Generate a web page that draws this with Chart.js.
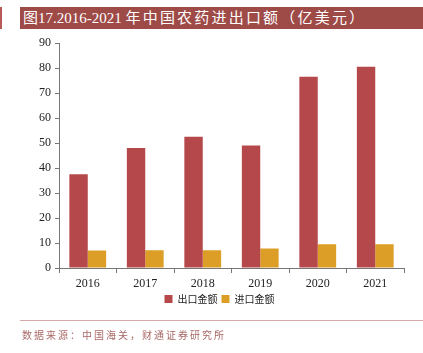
<!DOCTYPE html>
<html><head><meta charset="utf-8">
<script src="https://cdn.jsdelivr.net/npm/chart.js@4/dist/chart.umd.min.js"></script>
<style>
html,body{margin:0;padding:0;background:#fff;width:423px;height:353px;overflow:hidden;}
#wrap{position:relative;width:423px;height:353px;}
#title{position:absolute;left:20px;top:7px;width:403px;height:22px;background:#9e4a47;color:#fff;font-family:"Liberation Serif","Noto Sans CJK SC",serif;font-size:15px;line-height:22px;padding-left:3px;box-sizing:border-box;white-space:nowrap;}
#title span{letter-spacing:2.2px;}
#mark{position:absolute;left:0;top:7px;width:2px;height:22px;background:#b85a57;}
#line{position:absolute;left:20px;top:320px;width:403px;height:1px;background:#d6aaa8;}
#foot{position:absolute;left:22px;top:327px;font-family:"Noto Sans CJK SC",sans-serif;font-size:10px;color:#a86a68;white-space:nowrap;letter-spacing:2px;}
canvas{position:absolute;left:0;top:0;}
</style></head>
<body><div id="wrap">
<div id="mark"></div>
<div id="title">图17.2016-2021 <span>年中国农药进出口额（亿美元）</span></div>
<canvas id="c" width="423" height="353"></canvas>
<div id="line"></div>
<div id="foot">数据来源：中国海关，财通证券研究所</div>
</div>
<script>
const categories = ['2016','2017','2018','2019','2020','2021'];
const exportValues = [37.5, 48.0, 52.5, 49.0, 76.5, 80.5];
const importValues = [7.0, 7.1, 7.1, 7.8, 9.5, 9.5];
const yTicks = [0,10,20,30,40,50,60,70,80,90];

new Chart(document.getElementById('c'), {
  type: 'bar',
  data: {
    labels: categories,
    datasets: [
      {label: '出口金额', data: exportValues, backgroundColor: '#b5484a', barPercentage: 1.0, categoryPercentage: 0.64},
      {label: '进口金额', data: importValues, backgroundColor: '#dc9e26', barPercentage: 1.0, categoryPercentage: 0.64}
    ]
  },
  options: {
    responsive: false,
    animation: false,
    layout: {padding: {left: 35, right: 19, top: 43, bottom: 39}},
    plugins: {
      legend: {
        position: 'bottom',
        labels: {boxWidth: 8, boxHeight: 8, padding: 4, color: '#222', font: {family: '"Noto Sans CJK SC", sans-serif', size: 10}}
      },
      tooltip: {enabled: false}
    },
    scales: {
      x: {
        afterFit: (s) => { s.height = 22; },
        grid: {display: true, drawOnChartArea: false, drawTicks: true, tickLength: 5, color: '#777', offset: true},
        border: {color: '#777'},
        ticks: {color: '#222', font: {family: '"Liberation Serif", serif', size: 12}, padding: 4}
      },
      y: {
        min: 0, max: 90,
        afterBuildTicks: (s) => { s.ticks = yTicks.map(v => ({value: v})); },
        grid: {display: true, drawOnChartArea: false, drawTicks: true, tickLength: 4, color: '#777'},
        border: {color: '#777'},
        ticks: {color: '#222', font: {family: '"Liberation Serif", serif', size: 12}, padding: 4}
      }
    }
  }
});
</script>
</body></html>
